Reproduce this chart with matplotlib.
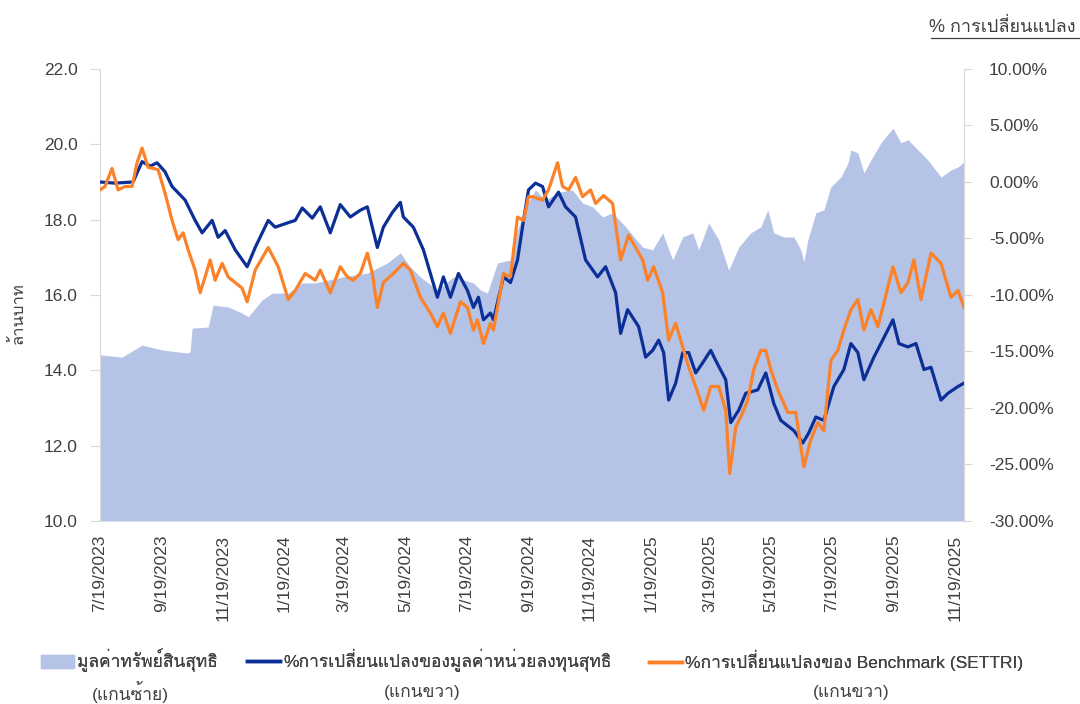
import matplotlib
matplotlib.use('Agg')
import matplotlib.pyplot as plt
import pandas as pd
from matplotlib import font_manager
from matplotlib.ft2font import FT2Font
from matplotlib.lines import Line2D
from matplotlib.patches import Patch

START = '2023-07-19'

# net asset value (million baht), left axis
nav_days = [0, 22, 42, 62, 87, 90, 92, 108, 113, 128, 142, 148, 162, 172, 188, 202, 215,
            243, 267, 287, 300, 310, 320, 337, 353, 373, 380, 387, 397, 410, 417, 427, 435,
            445, 458, 472, 482, 492, 502, 512, 525, 542, 552, 562, 572, 582, 592, 598, 608,
            618, 628, 638, 650, 660, 667, 673, 683, 693, 700, 703, 707, 715, 723, 730, 740,
            747, 750, 757, 763, 770, 780, 792, 800, 807, 817, 827, 840, 850, 857, 863]
nav_values = [14.41, 14.35, 14.67, 14.54, 14.46, 14.49, 15.12, 15.15, 15.73, 15.68, 15.52,
              15.42, 15.87, 16.05, 16.05, 16.32, 16.32, 16.48, 16.58, 16.85, 17.12, 16.74,
              16.48, 16.13, 16.48, 16.32, 16.13, 16.05, 16.85, 16.93, 17.73, 18.44, 18.79,
              18.52, 18.73, 18.79, 18.44, 18.34, 18.07, 18.18, 17.81, 17.27, 17.20, 17.65,
              16.93, 17.54, 17.65, 17.20, 17.91, 17.46, 16.66, 17.27, 17.65, 17.81, 18.26,
              17.65, 17.54, 17.54, 17.20, 16.88, 17.46, 18.18, 18.26, 18.87, 19.13, 19.50,
              19.85, 19.77, 19.24, 19.58, 20.04, 20.43, 20.04, 20.12, 19.85, 19.58, 19.13,
              19.32, 19.40, 19.53]

# % change of NAV per unit, right axis
fund_days = [0, 15, 33, 42, 50, 57, 65, 72, 85, 95, 102, 112, 118, 125, 135, 147, 155, 168,
             175, 188, 195, 202, 212, 220, 230, 240, 250, 260, 267, 277, 283, 292, 300, 303,
             313, 323, 337, 343, 350, 358, 367, 373, 378, 383, 390, 393, 403, 410, 417, 423,
             428, 435, 442, 448, 458, 465, 475, 485, 497, 505, 515, 520, 527, 538, 545, 552,
             558, 563, 568, 575, 582, 588, 595, 602, 610, 615, 625, 630, 638, 645, 657, 665,
             673, 680, 693, 702, 708, 715, 723, 733, 743, 750, 757, 763, 773, 780, 792, 798,
             807, 815, 823, 830, 840, 847, 857, 863]
fund_pct = [0.0, -0.1, 0.0, 1.8, 1.4, 1.7, 0.9, -0.4, -1.6, -3.4, -4.5, -3.4, -4.9, -4.3,
            -6.0, -7.5, -5.8, -3.4, -4.0, -3.6, -3.4, -2.3, -3.2, -2.2, -4.5, -2.0, -3.1,
            -2.5, -2.2, -5.8, -4.0, -2.7, -1.8, -3.1, -4.0, -6.0, -10.2, -8.4, -10.2, -8.1,
            -9.6, -11.1, -10.2, -12.2, -11.6, -12.2, -8.4, -8.9, -6.9, -3.4, -0.7, -0.1,
            -0.4, -2.2, -0.9, -2.2, -3.1, -6.9, -8.4, -7.5, -9.8, -13.4, -11.3, -12.8,
            -15.5, -14.9, -14.0, -15.1, -19.3, -17.8, -15.1, -15.1, -16.9, -16.0, -14.9,
            -15.8, -17.5, -21.3, -20.2, -18.7, -18.4, -16.9, -19.6, -21.1, -22.0, -23.1,
            -22.2, -20.8, -21.1, -18.1, -16.6, -14.3, -15.1, -17.5, -15.5, -14.3, -12.2,
            -14.3, -14.6, -14.3, -16.6, -16.4, -19.3, -18.7, -18.1, -17.8]

# % change of benchmark (SETTRI), right axis
bench_days = [0, 5, 12, 18, 25, 32, 37, 42, 48, 58, 65, 72, 78, 83, 88, 95, 100, 105, 110,
              115, 122, 128, 135, 142, 147, 155, 168, 178, 188, 195, 205, 215, 220, 230, 240,
              247, 253, 260, 267, 272, 277, 283, 293, 303, 310, 320, 330, 337, 343, 350, 360,
              367, 373, 377, 383, 390, 393, 403, 410, 417, 423, 428, 432, 442, 448, 457, 462,
              468, 475, 482, 490, 495, 503, 512, 520, 528, 535, 542, 547, 553, 562, 568, 575,
              582, 588, 595, 603, 610, 618, 625, 629, 635, 642, 647, 653, 660, 665, 670, 677,
              687, 695, 703, 710, 717, 723, 730, 737, 743, 750, 757, 763, 770, 777, 783, 792,
              800, 807, 813, 820, 830, 840, 850, 857, 863]
bench_pct = [-0.7, -0.4, 1.2, -0.7, -0.4, -0.4, 1.7, 3.0, 1.3, 1.1, -1.0, -3.4, -5.1, -4.5,
             -6.0, -7.8, -9.8, -8.4, -6.9, -8.7, -7.2, -8.4, -8.9, -9.4, -10.6, -7.8, -5.8,
             -7.5, -10.4, -9.6, -8.1, -8.7, -7.8, -9.8, -7.5, -8.4, -8.7, -8.1, -6.3, -8.1,
             -11.1, -8.9, -8.1, -7.2, -7.8, -10.2, -11.6, -12.8, -11.6, -13.4, -10.6, -11.1,
             -13.1, -12.2, -14.3, -12.5, -13.1, -8.1, -8.4, -3.1, -3.4, -1.3, -1.3, -1.6,
             -0.7, 1.7, -0.4, -0.7, 0.4, -1.3, -0.7, -1.9, -1.2, -1.9, -6.9, -4.7, -5.8,
             -6.9, -8.7, -7.5, -9.8, -14.0, -12.5, -14.6, -16.4, -18.1, -20.2, -18.1, -18.1,
             -20.2, -25.8, -21.7, -20.4, -19.3, -16.6, -14.9, -14.9, -16.6, -18.4, -20.4,
             -20.4, -25.2, -22.8, -21.3, -22.0, -15.8, -14.9, -13.1, -11.3, -10.4, -13.1,
             -11.3, -12.8, -10.7, -7.5, -9.8, -8.9, -6.9, -10.4, -6.3, -7.2, -10.2, -9.6,
             -11.1]

tick_labels = ['7/19/2023', '9/19/2023', '11/19/2023', '1/19/2024', '3/19/2024',
               '5/19/2024', '7/19/2024', '9/19/2024', '11/19/2024', '1/19/2025',
               '3/19/2025', '5/19/2025', '7/19/2025', '9/19/2025', '11/19/2025']
left_ticks = [10, 12, 14, 16, 18, 20, 22]
right_ticks = [-30, -25, -20, -15, -10, -5, 0, 5, 10]

legend_names = ['มูลค่าทรัพย์สินสุทธิ',
                '%การเปลี่ยนแปลงของมูลค่าหน่วยลงทุนสุทธิ',
                '%การเปลี่ยนแปลงของ Benchmark (SETTRI)']
legend_axes = ['(แกนซ้าย)', '(แกนขวา)', '(แกนขวา)']

AREA = '#b4c3e6'
NAVY = '#0b2f96'
ORANGE = '#fb8228'
GREY = '#404040'


def thai_family():
    for f in font_manager.fontManager.ttflist:
        try:
            if 0x0E01 in FT2Font(f.fname).get_charmap():
                return f.name
        except Exception:
            pass
    return None


def main():
    fams = ['Liberation Sans']
    thai = thai_family()
    if thai:
        fams.append(thai)
    fams.append('DejaVu Sans')
    plt.rcParams['font.family'] = fams

    start = pd.Timestamp(START)
    nav_dates = start + pd.to_timedelta(nav_days, unit='D')
    fund_dates = start + pd.to_timedelta(fund_days, unit='D')
    bench_dates = start + pd.to_timedelta(bench_days, unit='D')
    ticks = pd.to_datetime(tick_labels, format='%m/%d/%Y')

    fig = plt.figure(figsize=(10.8, 7.04), dpi=100)
    ax = fig.add_axes([0.0926, 0.260, 0.8, 0.642])
    ax.fill_between(nav_dates, 10, nav_values, color=AREA, lw=0)
    ax.set_ylim(10, 22)
    ax.set_yticks(left_ticks)
    ax.set_yticklabels([f'{v:.1f}' for v in left_ticks])
    ax.set_xlim(nav_dates[0], nav_dates[-1])
    ax.set_xticks(ticks)
    ax.set_xticklabels(tick_labels, rotation=90)

    ax2 = ax.twinx()
    ax2.plot(fund_dates, fund_pct, color=NAVY, lw=2.3)
    ax2.plot(bench_dates, bench_pct, color=ORANGE, lw=2.3)
    ax2.set_ylim(-30, 10)
    ax2.set_yticks(right_ticks)
    ax2.set_yticklabels([f'{v:.2f}%' for v in right_ticks])
    ax2.set_xlim(nav_dates[0], nav_dates[-1])

    for a in (ax, ax2):
        for s in ('top', 'bottom'):
            a.spines[s].set_visible(False)
        a.spines['left'].set_color('#d9d9d9')
        a.spines['right'].set_color('#d9d9d9')
        a.tick_params(axis='x', length=0, labelcolor=GREY, labelsize=12.5, pad=10)
    ax.spines['right'].set_visible(False)
    ax2.spines['left'].set_visible(False)
    ax.tick_params(axis='y', colors='#d9d9d9', labelcolor=GREY, labelsize=12.5,
                   length=7, pad=9)
    ax2.tick_params(axis='y', colors='#d9d9d9', labelcolor=GREY, labelsize=12.5,
                    length=6, pad=12)

    fig.text(0.016, 0.555, 'ล้านบาท', rotation=90, ha='center', va='center',
             fontsize=12, color=GREY)
    fig.text(0.996, 0.962, '% การเปลี่ยนแปลง', ha='right', va='center',
             fontsize=13, color=GREY)
    fig.add_artist(Line2D([0.862, 1.0], [0.946, 0.946], color=GREY, lw=0.9))

    handles = [Patch(color=AREA), Line2D([], [], color=NAVY, lw=2.5),
               Line2D([], [], color=ORANGE, lw=2.5)]
    starts = [0.038, 0.229, 0.601]
    centers = [0.121, 0.391, 0.788]
    for h, name, sub, x0, xc in zip(handles, legend_names, legend_axes, starts, centers):
        leg = fig.legend([h], [name], loc='center left', bbox_to_anchor=(x0, 0.062),
                         frameon=False, fontsize=12.5, handlelength=1.9,
                         handleheight=0.8, handletextpad=0.15, borderpad=0,
                         borderaxespad=0, labelcolor=GREY)
        fig.add_artist(leg)
        fig.text(xc, 0.017, sub, ha='center', va='center', fontsize=12.5, color=GREY)

    fig.savefig('out.png', dpi=100)


if __name__ == '__main__':
    main()
